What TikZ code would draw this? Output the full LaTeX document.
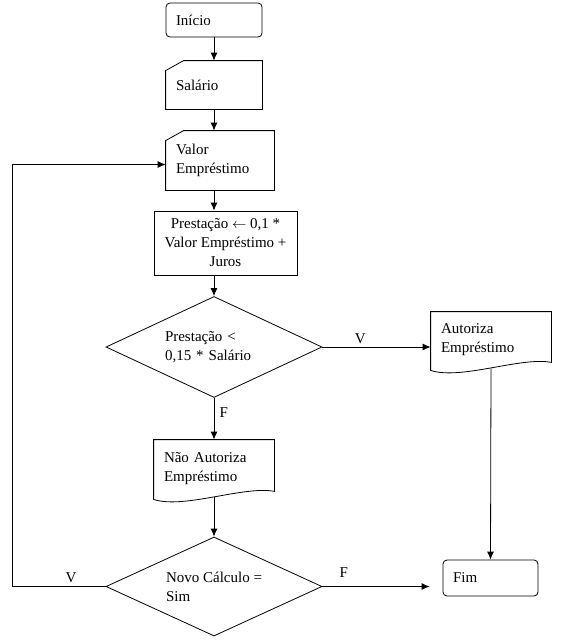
\documentclass[tikz,border=0pt]{standalone}
\usepackage{fontspec}
\setmainfont{Liberation Serif}
\usetikzlibrary{arrows.meta, shapes.geometric, calc}

\newcommand{\entradamanual}[1]{\draw (#1.south west) -- (#1.south east) -- (#1.north east) -- ([xshift=18pt]#1.north west) -- ([yshift=-10pt]#1.north west) -- cycle;}
\newcommand{\documento}[1]{\draw (#1.north west) -- (#1.north east) -- ([yshift=6pt]#1.south east) .. controls ([xshift=-30pt,yshift=12pt]#1.south east) and ([xshift=30pt,yshift=-12pt]#1.south west) .. ([yshift=-2pt]#1.south west) -- cycle;}

\begin{document}
\begin{tikzpicture}[x=1pt, y=-1pt, line width=0.8pt,
  every node/.style={font=\fontsize{15}{19}\selectfont},
  caixa/.style={inner xsep=10pt, inner ysep=0pt, align=left},
  losango/.style={diamond, draw, aspect=2.14, minimum width=216pt, minimum height=101pt, inner sep=1pt, align=left},
  seta/.style={-{Latex[length=8pt,width=7pt]}}]
\useasboundingbox (0,0) rectangle (563,643);

\node[caixa, draw, rounded corners=4pt, text width=76pt, minimum height=34pt] (ini) at (214,20) {Início};
\node[caixa, text width=76pt, minimum height=48pt] (sal) at (214,85) {Salário};
\entradamanual{sal}
\node[caixa, text width=88pt, minimum height=59pt] (valor) at (220,160.5) {Valor\\Empréstimo};
\entradamanual{valor}
\node[draw, align=center, inner sep=0pt, minimum width=143pt, minimum height=64pt] (prest) at (225.5,243) {Prestação $\leftarrow$ 0,1 *\\Valor Empréstimo +\\Juros};
\node[losango, text width=98pt] (d1) at (214,347) {Prestação <\\0,15 * Salário};
\node[caixa, text width=100pt, minimum height=56pt] (aut) at (491,340) {Autoriza\\Empréstimo};
\documento{aut}
\node[caixa, text width=100pt, minimum height=57pt] (nao) at (214,468.5) {Não Autoriza\\Empréstimo};
\documento{nao}
\node[losango, minimum height=99pt] (d2) at (214,586.5) {Novo Cálculo =\\Sim};
\node[caixa, draw, rounded corners=4pt, text width=75pt, minimum height=36pt] (fim) at (490.5,578) {Fim};
\coordinate (volta) at (12,586.5);

% ligacoes
\draw[seta] (ini.south) -- (sal.north);
\draw[seta] (sal.south) -- (sal.south |- valor.north);
\draw[seta] (valor.south -| sal.south) -- (prest.north -| sal.south);
\draw[seta] (prest.south -| d1.north) -- (d1.north);
\draw[seta] (d1.east) -- node[above, pos=.35] (v1) {V} (d1.east -| aut.west);
\draw[seta] (d1.south) -- node[right, pos=.36, xshift=2pt] (f1) {F} (nao.north);
\draw[seta] (nao.south) -- (d2.north);
\draw[seta] (d2.east) -- node[above, pos=.2, yshift=5pt] (f2) {F} ($(d2.east -| fim.west)+(-13,0)$);
\draw[seta] (aut.south) -- (fim.north);
\draw[seta] (d2.west) -- node[above, pos=.37] (v2) {V} (volta) |- ([yshift=-4pt]valor.west);
\end{tikzpicture}
\end{document}
